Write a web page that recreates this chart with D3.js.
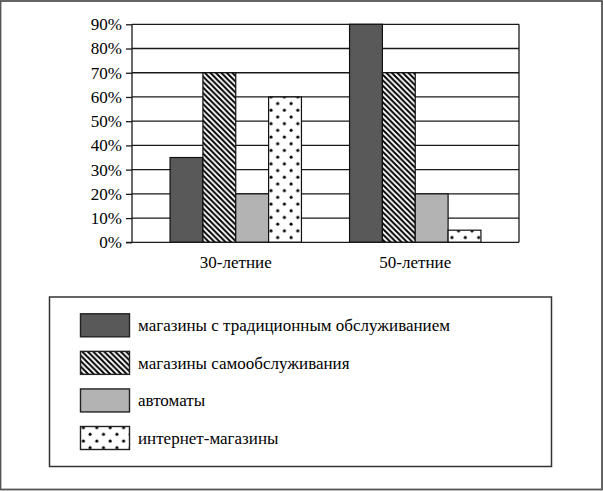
<!DOCTYPE html>
<html><head><meta charset="utf-8">
<script src="https://cdn.jsdelivr.net/npm/d3@7"></script>
</head><body style="margin:0">
<script>
const categories = ["30-летние", "50-летние"];
const seriesNames = ["магазины с традиционным обслуживанием", "магазины самообслуживания", "автоматы", "интернет-магазины"];
const traditional = [35, 90];
const selfService = [70, 70];
const vending = [20, 20];
const online = [60, 5];
const tickValues = [0, 10, 20, 30, 40, 50, 60, 70, 80, 90];

const seriesValues = [traditional, selfService, vending, online];
const W = 603, H = 491;
const svg = d3.select("body").append("svg").attr("width", W).attr("height", H).style("display", "block");
const defs = svg.append("defs");

// patterns
const hatch = defs.append("pattern").attr("id", "hatch").attr("patternUnits", "userSpaceOnUse")
  .attr("width", 5.5).attr("height", 5.5);
hatch.append("rect").attr("width", 5.5).attr("height", 5.5).attr("fill", "#fff");
hatch.append("path").attr("d", "M-1,-1 L6.5,6.5 M-1,4.5 L1,6.5 M4.5,-1 L6.5,1")
  .attr("stroke", "#000").attr("stroke-width", 2);
const dots = defs.append("pattern").attr("id", "dots").attr("patternUnits", "userSpaceOnUse")
  .attr("width", 13.4).attr("height", 13.4);
dots.append("rect").attr("width", 13.4).attr("height", 13.4).attr("fill", "#fff");
dots.append("circle").attr("cx", 3).attr("cy", 3).attr("r", 1.5).attr("fill", "#000");
dots.append("circle").attr("cx", 9.7).attr("cy", 9.7).attr("r", 1.5).attr("fill", "#000");

const fills = ["#595959", "url(#hatch)", "#b3b3b3", "url(#dots)"];

function serif(sel) {
  sel.style("font-family", '"Liberation Serif", "Times New Roman", serif', "important")
     .style("font-size", "17px", "important")
     .attr("fill", "#000");
}

// outer frame
svg.append("rect").attr("x", 0.5).attr("y", 1).attr("width", 601.5).attr("height", 488.5)
  .attr("fill", "none").attr("stroke", "#555").attr("stroke-width", 1.8);

const pLeft = 132, pRight = 519, pTop = 24.3, pBottom = 242.3;
const x = d3.scaleBand().domain(categories).range([pLeft, pRight]).paddingInner(0.268).paddingOuter(0.212);
const xs = d3.scaleBand().domain(seriesNames).range([0, x.bandwidth()]);
const y = d3.scaleLinear().domain([0, 90]).range([pBottom, pTop]);

// gridlines
svg.append("g").selectAll("line").data(tickValues.filter(d => d > 0)).join("line")
  .attr("x1", pLeft).attr("x2", pRight).attr("y1", d => y(d)).attr("y2", d => y(d))
  .attr("stroke", "#1a1a1a").attr("stroke-width", 1.3);
// right border
svg.append("line").attr("x1", pRight).attr("x2", pRight).attr("y1", pTop).attr("y2", pBottom)
  .attr("stroke", "#1a1a1a").attr("stroke-width", 1.3);

// bars
categories.forEach((c, ci) => {
  svg.append("g").selectAll("rect").data(seriesNames).join("rect")
    .attr("x", s => x(c) + xs(s))
    .attr("y", (s, si) => y(seriesValues[si][ci]))
    .attr("width", xs.bandwidth())
    .attr("height", (s, si) => pBottom - y(seriesValues[si][ci]))
    .attr("fill", (s, si) => fills[si])
    .attr("stroke", "#111").attr("stroke-width", 1.2);
});

// y axis
const yAxis = svg.append("g").attr("transform", `translate(${pLeft},0)`)
  .call(d3.axisLeft(y).tickValues(tickValues).tickFormat(d => d + "%").tickSize(6).tickPadding(4));
yAxis.selectAll("path,line").attr("stroke", "#1a1a1a").attr("stroke-width", 1.3);
yAxis.select(".domain").attr("d", `M0,${pTop}V${pBottom}`);
yAxis.selectAll("text").call(serif);

// x axis
const xAxis = svg.append("g").attr("transform", `translate(0,${pBottom})`)
  .call(d3.axisBottom(x).tickSize(0).tickPadding(14));
xAxis.select(".domain").attr("d", `M${pLeft - 6},0H${pRight}`).attr("stroke", "#1a1a1a").attr("stroke-width", 1.3);
xAxis.selectAll("text").call(serif);

// legend
svg.append("rect").attr("x", 49.5).attr("y", 297).attr("width", 502).attr("height", 169.5)
  .attr("fill", "#fff").attr("stroke", "#333").attr("stroke-width", 1.5);
const ly = d3.scalePoint().domain(seriesNames).range([325.3, 438]);
const lg = svg.append("g").selectAll("g").data(seriesNames).join("g")
  .attr("transform", s => `translate(0,${ly(s)})`);
lg.append("rect").attr("x", 80.5).attr("y", -11.5).attr("width", 49).attr("height", 23)
  .attr("fill", (s, i) => fills[i]).attr("stroke", "#222").attr("stroke-width", 1.4);
lg.append("text").attr("x", 138).attr("y", 6).text(s => s).call(serif);
</script>
</body></html>
